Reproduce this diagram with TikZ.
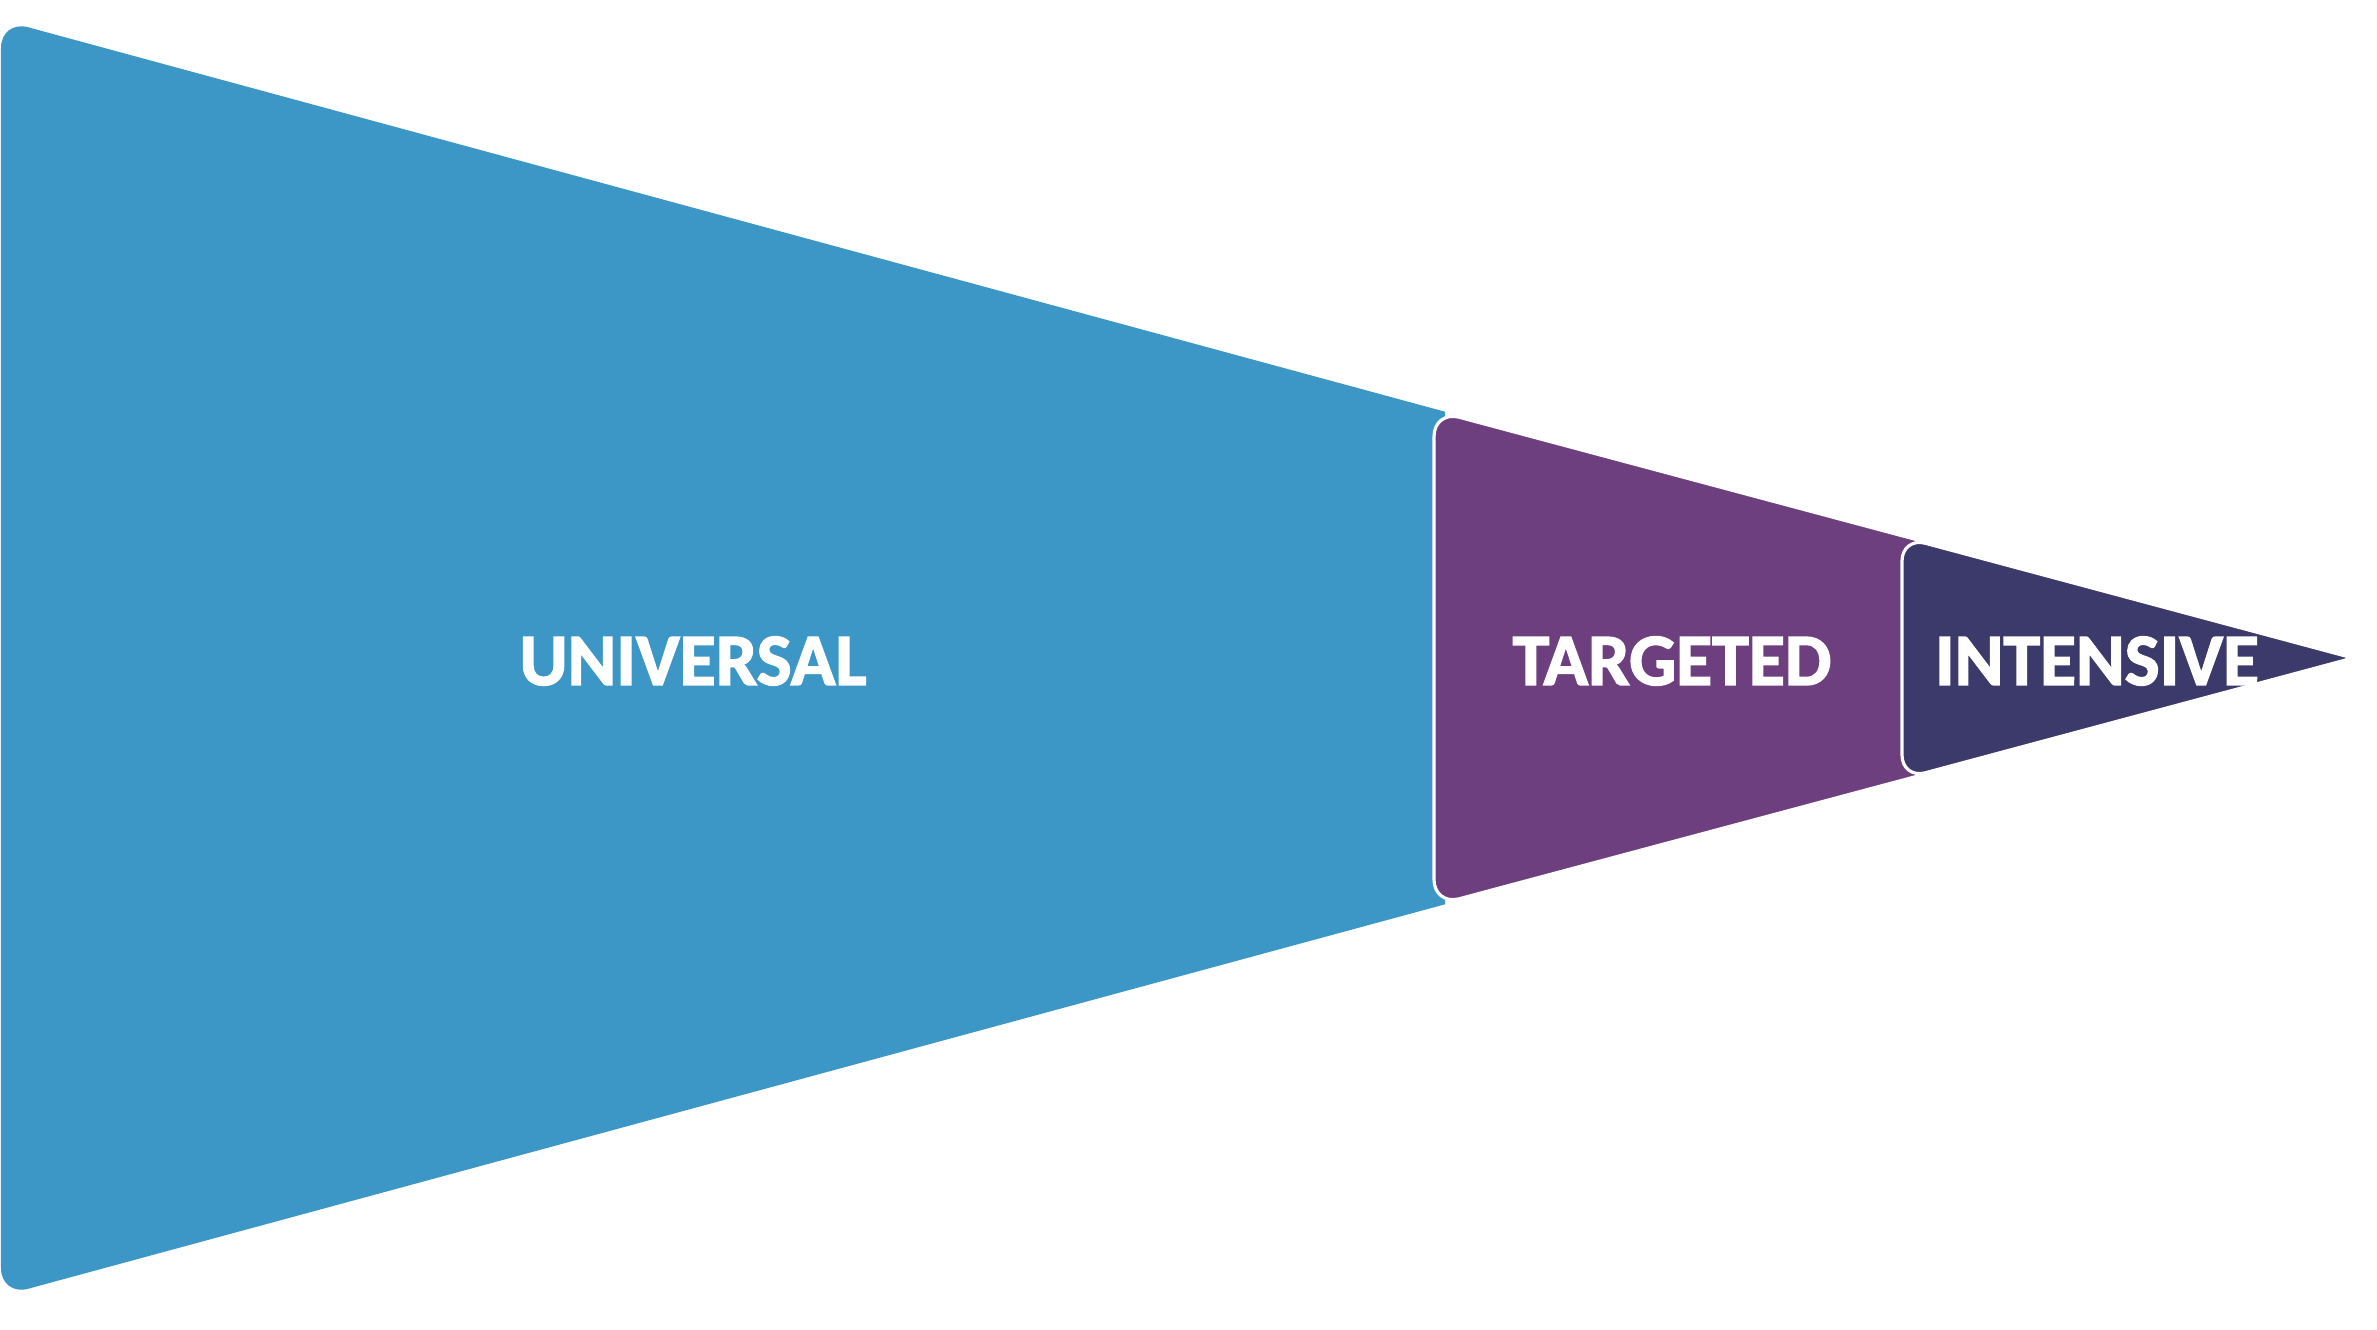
\documentclass[tikz,border=0pt]{standalone}
\usepackage{fontspec}
\setmainfont{Carlito}
\newfontfamily\lblfont[BoldFeatures={FakeBold=2}]{Carlito}
\definecolor{cUni}{RGB}{61,151,198}
\definecolor{cTar}{RGB}{110,63,126}
\definecolor{cInt}{RGB}{60,57,107}
\begin{document}
\begin{tikzpicture}[x=0.01cm,y=-0.01cm,
  seg/.style={draw=white,line width=0.9pt,line join=round},
  lbl/.style={text=white,font=\lblfont\bfseries\fontsize{21pt}{24pt}\selectfont,inner sep=0pt,anchor=center}]
\useasboundingbox (0,0) rectangle (2377,1329);
% universal segment
\fill[cUni] (1445,411.7) [rounded corners=0.28cm] -- (1,19.9) -- (1,1296.1) [sharp corners] -- (1445,904.3) -- cycle;
% targeted segment
\path[seg,fill=cTar] (1918,540) [rounded corners=0.26cm] -- (1434,410.5) -- (1434,905.5) [sharp corners] -- (1918,776) -- cycle;
% intensive segment
\path[seg,fill=cInt] (2353,658) [rounded corners=0.24cm] -- (1902,537) -- (1902,779) [rounded corners=0.08cm] -- (2353,658) -- cycle;
\node[lbl] (uni) at (693,661) {UNIVERSAL};
\node[lbl] (tar) at (1672,661) {TARGETED};
\node[lbl] (int) at (2097,661) {INTENSIVE};
\end{tikzpicture}
\end{document}
